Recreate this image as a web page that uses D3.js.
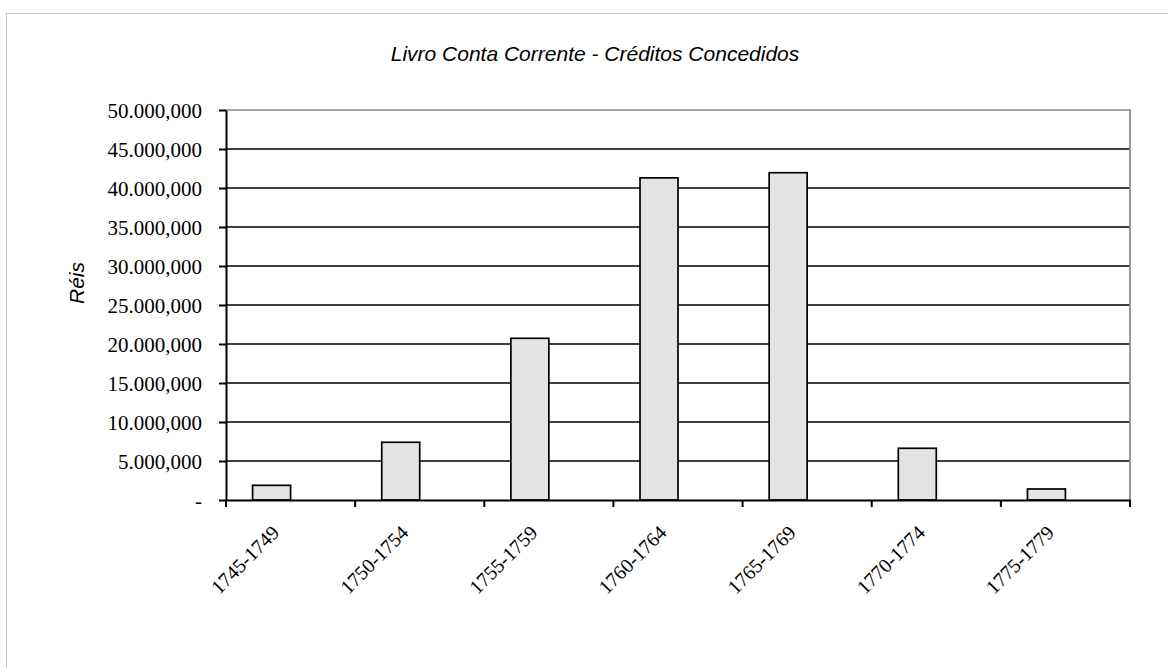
<!DOCTYPE html>
<html>
<head>
<meta charset="utf-8">
<script src="https://cdn.jsdelivr.net/npm/d3@7"></script>
<style>
  body { margin: 0; background: #fff; }
  svg { display: block; }
  .title, .ylabel { font-family: "Liberation Sans", Arial, sans-serif; font-style: italic; }
  .tick text { font-family: "Liberation Serif", "Times New Roman", serif; }
</style>
</head>
<body>
<svg width="1168" height="668"></svg>
<script>
'use strict';

// Data
const periods = ['1745-1749', '1750-1754', '1755-1759', '1760-1764', '1765-1769', '1770-1774', '1775-1779'];
const credits = [1880000, 7400000, 20730000, 41300000, 41960000, 6630000, 1410000];
const series = ['Créditos Concedidos', ''];
const yTicks = [0, 5e6, 10e6, 15e6, 20e6, 25e6, 30e6, 35e6, 40e6, 45e6, 50e6];

const svg = d3.select('svg');
const margin = { top: 110, left: 226, right: 38, bottom: 168 };
const width = 1168 - margin.left - margin.right;
const height = 668 - margin.top - margin.bottom;

// outer chart border (only top/left visible in the frame)
svg.append('rect')
  .attr('x', 6.5).attr('y', 13.5)
  .attr('width', 1200).attr('height', 700)
  .attr('fill', 'none').attr('stroke', '#c8c8c8');

svg.append('text')
  .attr('class', 'title')
  .attr('x', 595).attr('y', 61)
  .attr('text-anchor', 'middle')
  .attr('font-size', 21)
  .text('Livro Conta Corrente - Créditos Concedidos');

const g = svg.append('g').attr('transform', `translate(${margin.left},${margin.top})`);

const x = d3.scaleBand().domain(periods).range([0, width]).padding(0);
const xs = d3.scaleBand().domain(series).range([0, x.bandwidth()]).paddingInner(0).paddingOuter(0.7);
const y = d3.scaleLinear().domain([0, 50e6]).range([height, 0]);

const fmt = v => v === 0 ? '-' : d3.format(',')(v).replace(/,/g, '.').replace(/\.(\d{3})$/, ',$1');

// gridlines
g.append('g')
  .selectAll('line')
  .data(yTicks.slice(1, -1))
  .join('line')
  .attr('x1', 0).attr('x2', width)
  .attr('y1', d => y(d)).attr('y2', d => y(d))
  .attr('stroke', '#000').attr('stroke-width', 1.7);

// plot frame top and right (grey)
g.append('path')
  .attr('d', `M0,${y(50e6)}H${width}V${height}`)
  .attr('fill', 'none').attr('stroke', '#888').attr('stroke-width', 1.7);

// bars
g.append('g')
  .selectAll('rect')
  .data(credits)
  .join('rect')
  .attr('x', (d, i) => x(periods[i]) + xs(series[0]))
  .attr('width', xs.bandwidth())
  .attr('y', d => y(d))
  .attr('height', d => height - y(d))
  .attr('fill', '#e3e3e3').attr('stroke', '#000').attr('stroke-width', 1.7);

// y axis
const yAxis = g.append('g')
  .call(d3.axisLeft(y).tickValues(yTicks).tickFormat(fmt).tickSize(7).tickSizeOuter(0).tickPadding(17));
yAxis.selectAll('line, path').attr('stroke', '#000').attr('stroke-width', 2);
yAxis.selectAll('text').attr('font-size', 21).attr('fill', '#000').attr('dy', '0.35em');

// x axis with ticks at category boundaries
const xAxis = g.append('g')
  .attr('transform', `translate(0,${height})`)
  .call(d3.axisBottom(x).tickSize(0).tickSizeOuter(0).tickPadding(0));
xAxis.select('.domain').attr('stroke', '#000').attr('stroke-width', 2);
xAxis.selectAll('.tick line').remove();
xAxis.selectAll('.tick text')
  .attr('font-size', 20)
  .attr('fill', '#000')
  .attr('text-anchor', 'end')
  .attr('transform', 'translate(-15,29) rotate(-45)')
  .attr('dy', '0.35em')
  .attr('y', 0);
xAxis.append('g')
  .selectAll('line')
  .data(d3.range(periods.length + 1))
  .join('line')
  .attr('x1', i => i * x.step()).attr('x2', i => i * x.step())
  .attr('y1', 0).attr('y2', 7)
  .attr('stroke', '#000').attr('stroke-width', 2);

// y label
svg.append('text')
  .attr('class', 'ylabel')
  .attr('transform', 'translate(84,283) rotate(-90)')
  .attr('text-anchor', 'middle')
  .attr('font-size', 21)
  .text('Réis');
</script>
</body>
</html>
